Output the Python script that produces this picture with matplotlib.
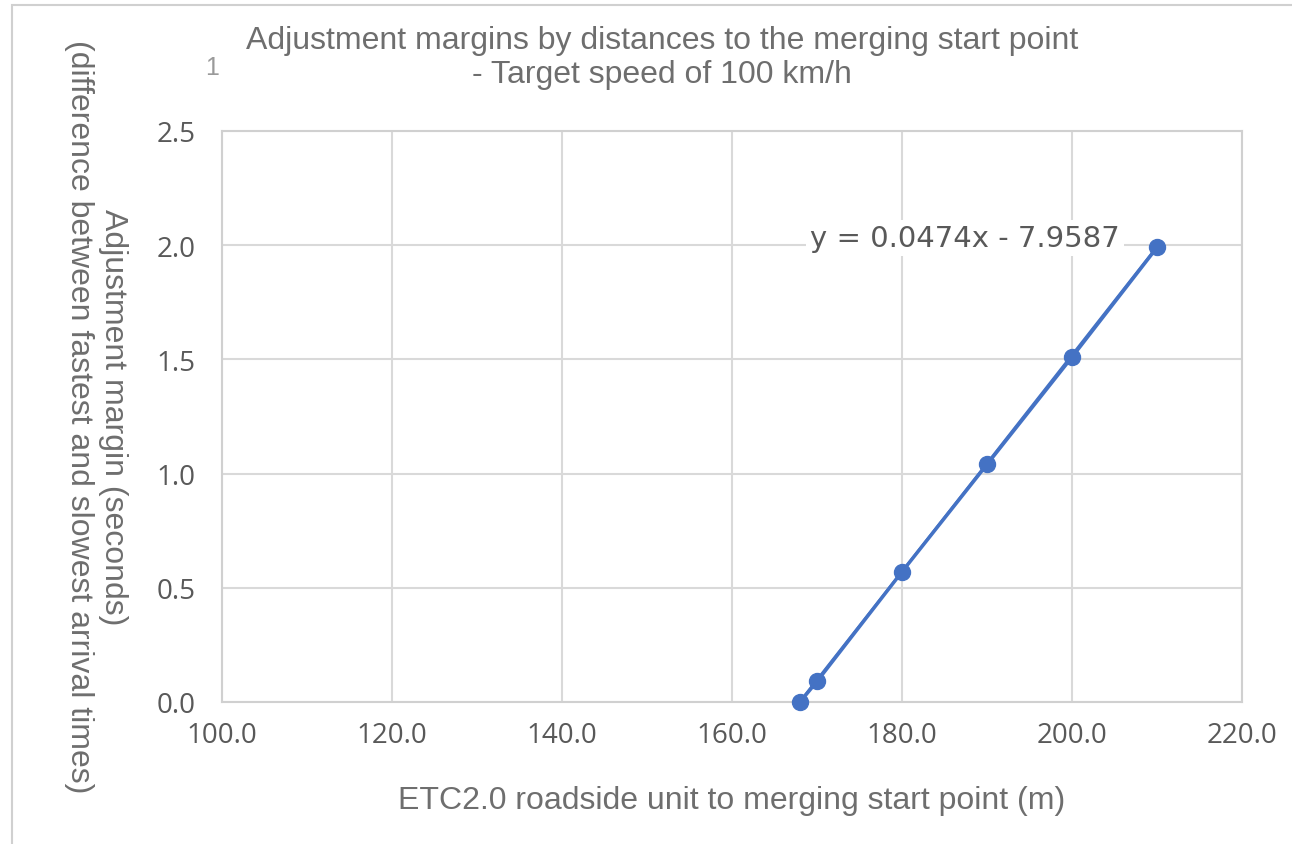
import matplotlib
matplotlib.use("Agg")
import matplotlib.pyplot as plt
from matplotlib.patches import Rectangle

distance_m = [168, 170, 180, 190, 200, 210]
margin_s = [0.0, 0.09, 0.57, 1.04, 1.51, 1.99]
slope = 0.0474
intercept = -7.9587
x_ticks = [100, 120, 140, 160, 180, 200, 220]
y_ticks = [0.0, 0.5, 1.0, 1.5, 2.0, 2.5]
title = "Adjustment margins by distances to the merging start point\n- Target speed of 100 km/h"
xlabel = "ETC2.0 roadside unit to merging start point (m)"
ylabel = "Adjustment margin (seconds)\n(difference between fastest and slowest arrival times)"
eq_label = "y = 0.0474x - 7.9587"

W, H = 1292, 845
fig = plt.figure(figsize=(W / 100, H / 100), dpi=100)
fig.patch.set_facecolor("white")

# chart area border (left/top visible)
fig.patches.append(Rectangle((12 / W, -0.1), 1.2, 1 - 6 / H + 0.1, transform=fig.transFigure,
                             fill=False, edgecolor="#D0D0D0", linewidth=1.5))

ax = fig.add_axes([222 / W, 1 - 703 / H, (1242 - 222) / W, (703 - 132) / H])
ax.set_xlim(100, 220)
ax.set_ylim(0, 2.5)
ax.set_xticks(x_ticks)
ax.set_yticks(y_ticks)
ax.set_xticklabels([f"{v:.1f}" for v in x_ticks])
ax.set_yticklabels([f"{v:.1f}" for v in y_ticks])
ax.grid(True, color="#D9D9D9", linewidth=1.5)
ax.set_axisbelow(True)
for s in ax.spines.values():
    s.set_color("#D0D0D0")
    s.set_linewidth(1.5)
ax.tick_params(length=0, labelsize=20, labelcolor="#595959")
ax.tick_params(axis="x", pad=14)
ax.tick_params(axis="y", pad=19)
for lab in ax.get_xticklabels() + ax.get_yticklabels():
    lab.set_family("Open Sans")

# trendline
xs = [distance_m[0], distance_m[-1]]
ax.plot(xs, [slope * v + intercept for v in xs], color="#4472C4", linewidth=1.5, zorder=2)
ax.plot(distance_m, margin_s, color="#4472C4", linewidth=2.5, marker="o",
        markersize=11.5, zorder=3, clip_on=False)

ax.text(187.4, 2.03, eq_label, ha="center", va="center",
        fontsize=21, color="#595959", family="DejaVu Sans",
        bbox=dict(facecolor="white", edgecolor="none", pad=3), zorder=4)

fig.text(662 / W, 1 - 58 / H, title, ha="center", va="center", fontsize=23,
         color="#6E6E6E", family="Liberation Sans", linespacing=1.15)
fig.text(212 / W, 1 - 68 / H, "1", ha="center", va="center", fontsize=18,
         color="#9A9A9A", family="Liberation Sans")
fig.text(732 / W, 1 - 801 / H, xlabel, ha="center", va="center", fontsize=23,
         color="#6E6E6E", family="Liberation Sans")
fig.text(96 / W, 1 - 417 / H, ylabel, ha="center", va="center", fontsize=23,
         rotation=270, color="#6E6E6E", family="Liberation Sans", linespacing=1.18)

fig.savefig("out.png", dpi=100, facecolor="white")
